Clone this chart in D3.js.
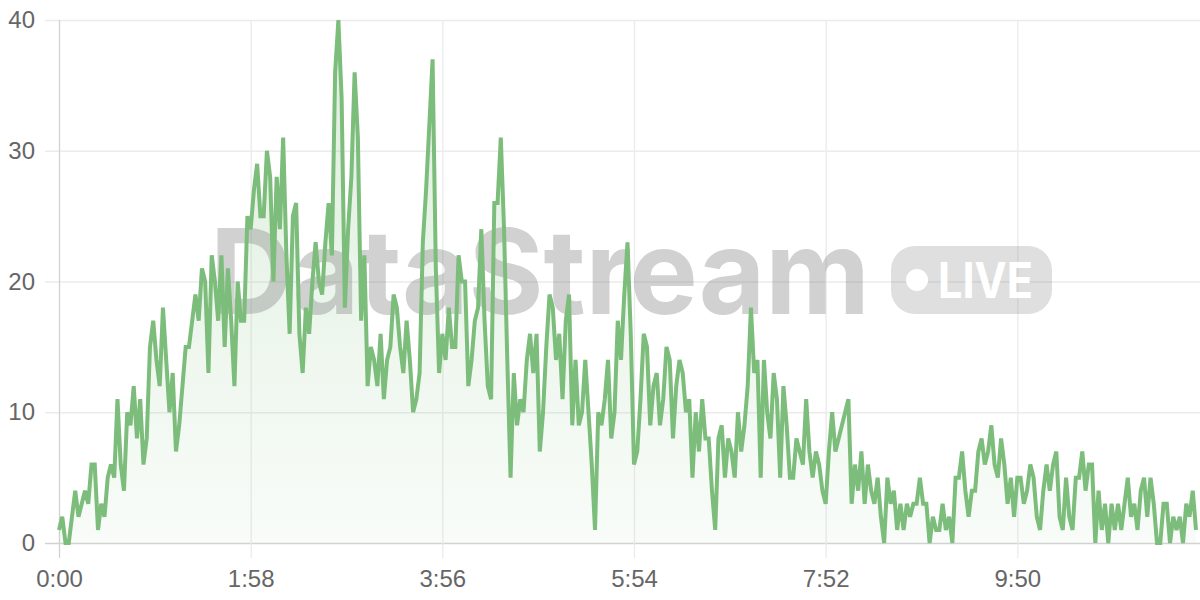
<!DOCTYPE html>
<html>
<head>
<meta charset="utf-8">
<script src="https://cdn.jsdelivr.net/npm/d3@7"></script>
<style>
  html, body { margin: 0; padding: 0; background: #fff; }
  svg { display: block; }
</style>
</head>
<body>
<svg id="chart" width="1200" height="600"></svg>
<script>
// ---- data (one reading every 2 seconds, 0s .. 700s) ----
const stepSeconds = 2;
const values = [
  1,2,0,0,2,4,2,3,4,3,
  6,6,1,3,2,5,6,5,11,6,
  4,10,9,12,8,11,6,8,15,17,
  14,12,18,14,10,13,7,9,12,15,
  15,17,19,17,21,20,13,22,20,17,
  22,15,21,17,12,20,17,17,25,24,
  27,29,25,25,30,28,20,28,24,31,
  22,16,25,26,16,13,18,16,20,23,
  20,19,23,26,22,36,40,34,18,24,
  28,36,31,17,22,12,15,14,12,16,
  11,14,15,19,18,15,13,17,14,10,
  11,13,23,27,32,37,21,13,16,14,
  18,15,15,22,20,20,12,14,17,18,
  24,17,12,11,26,26,31,24,14,5,
  13,9,11,10,14,16,13,16,7,10,
  15,19,18,14,16,11,17,19,9,14,
  9,10,14,10,6,1,10,9,11,14,
  8,10,17,14,19,23,16,6,7,11,
  16,15,9,12,13,9,11,15,14,8,
  12,14,13,10,11,5,10,7,11,8,
  8,4,1,8,9,5,8,7,5,10,
  7,9,12,18,13,14,5,14,10,8,
  13,11,5,12,9,5,5,8,7,6,
  11,7,5,7,6,4,3,7,10,7,
  8,9,10,11,3,6,4,7,3,6,
  4,3,5,2,0,5,3,4,1,3,
  1,3,2,3,3,5,3,3,0,2,
  1,1,3,1,2,0,5,5,7,4,
  2,4,4,7,8,6,7,9,6,5,
  8,6,3,5,2,5,5,3,4,6,
  5,2,1,4,6,4,6,7,2,1,
  5,2,1,5,5,7,4,6,6,0,
  4,1,3,0,3,1,3,1,3,5,
  2,3,1,4,5,2,5,3,0,0,
  3,3,0,2,1,2,0,3,2,4,1
];
const xTickValues = [0, 118, 236, 354, 472, 590];
const yTickValues = [0, 10, 20, 30, 40];
const xDomain = [0, 700];
const yDomain = [0, 40];
const watermarkTitle = "DataStream";
const watermarkBadge = "LIVE";

(function () {
const data = values.map((v, i) => ({ t: i * stepSeconds, v }));

// ---- layout ----
const plotLeft = 59, plotRight = 1196, plotTop = 20, plotBottom = 543;
const gridLeft = 45, gridRight = 1200, tickBottom = 558;
const FONT = '"Helvetica Neue", Helvetica, "Liberation Sans", Arial, sans-serif';

const svg = d3.select("#chart");
const x = d3.scaleLinear().domain(xDomain).range([plotLeft, plotRight]);
const y = d3.scaleLinear().domain(yDomain).range([plotBottom, plotTop]);

const fmt = s => Math.floor(s / 60) + ":" + String(s % 60).padStart(2, "0");

// gradient for area
const defs = svg.append("defs");
const grad = defs.append("linearGradient")
  .attr("id", "areaGrad").attr("gradientUnits", "userSpaceOnUse")
  .attr("x1", 0).attr("x2", 0).attr("y1", plotTop).attr("y2", plotBottom);
grad.append("stop").attr("offset", "0%").attr("stop-color", "rgb(124,189,124)").attr("stop-opacity", 0.26);
grad.append("stop").attr("offset", "100%").attr("stop-color", "rgb(124,189,124)").attr("stop-opacity", 0.05);

// y axis (horizontal grid lines)
const yAxis = d3.axisLeft(y).tickValues(yTickValues)
  .tickSize(-(gridRight - gridLeft)).tickPadding(10);
const gy = svg.append("g").attr("transform", `translate(${gridLeft},0)`).call(yAxis);
gy.select(".domain").remove();
gy.selectAll(".tick line").attr("stroke", d => d === 0 ? "#d2d2d2" : "#ebebeb").attr("stroke-width", 1.3);
gy.selectAll(".tick text").attr("fill", "#666").style("font-family", FONT).style("font-size", "24px");

// x axis (vertical grid lines)
const xAxis = d3.axisBottom(x).tickValues(xTickValues).tickFormat(fmt)
  .tickSize(-(tickBottom - plotTop)).tickPadding(12);
const gx = svg.append("g").attr("transform", `translate(0,${tickBottom})`).call(xAxis);
gx.select(".domain").remove();
gx.selectAll(".tick line").attr("stroke", d => d === 0 ? "#d2d2d2" : "#ebebeb").attr("stroke-width", 1.3);
gx.selectAll(".tick text").attr("fill", "#666").style("font-family", FONT).style("font-size", "24px");

// area
const area = d3.area().x(d => x(d.t)).y0(y(0)).y1(d => y(d.v)).curve(d3.curveLinear);
svg.append("path").datum(data).attr("d", area).attr("fill", "url(#areaGrad)");

// watermark
const wm = svg.append("g").attr("pointer-events", "none");
wm.append("text").text(watermarkTitle)
  .attr("x", 210).attr("y", 314)
  .attr("textLength", 660).attr("lengthAdjust", "spacingAndGlyphs")
  .style("font-family", "Inter, 'Open Sans', sans-serif").style("font-weight", 700)
  .style("font-size", "118px").attr("fill", "rgba(120,120,120,0.34)");
wm.append("rect").attr("x", 891).attr("y", 246).attr("width", 161).attr("height", 68)
  .attr("rx", 24).attr("fill", "rgba(120,120,120,0.24)");
wm.append("circle").attr("cx", 917).attr("cy", 280).attr("r", 11).attr("fill", "#fff");
wm.append("text").text(watermarkBadge)
  .attr("x", 938).attr("y", 298)
  .attr("textLength", 95).attr("lengthAdjust", "spacingAndGlyphs")
  .style("font-family", "Inter, 'Open Sans', sans-serif").style("font-weight", 700)
  .style("font-size", "49px").attr("fill", "#fff");

// line
const line = d3.line().x(d => x(d.t)).y(d => y(d.v)).curve(d3.curveLinear);
svg.append("path").datum(data).attr("d", line)
  .attr("fill", "none").attr("stroke", "#7cbd7c").attr("stroke-width", 4)
  .attr("stroke-linejoin", "miter").attr("stroke-miterlimit", 4);
})();
</script>
</body>
</html>
